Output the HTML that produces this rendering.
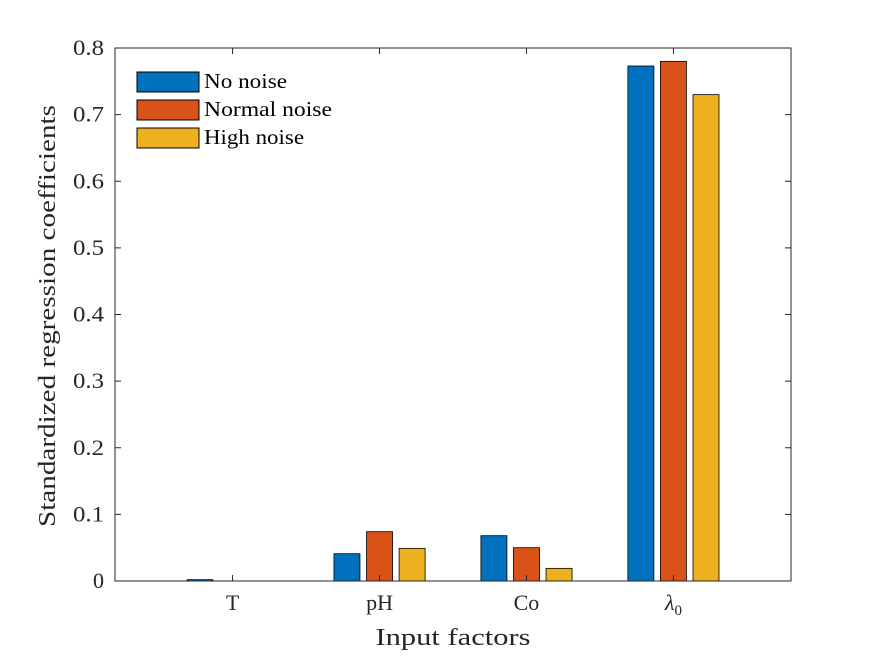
<!DOCTYPE html>
<html><head><meta charset="utf-8"><style>
body{margin:0;background:#fff;}
svg{display:block;font-family:"Liberation Serif",serif;}
</style></head><body>
<svg id="chart" width="875" height="656">
<rect x="0" y="0" width="875" height="656" fill="#fff"/>
</svg>
<script>
const categories = ["T","pH","Co","λ"];
const seriesNames = ["No noise","Normal noise","High noise"];
const noNoise = [0.002, 0.041, 0.068, 0.773];
const normalNoise = [0.0, 0.074, 0.050, 0.780];
const highNoise = [0.0, 0.049, 0.019, 0.730];
const yTicks = [0,0.1,0.2,0.3,0.4,0.5,0.6,0.7,0.8];
const yTickLabels = ["0","0.1","0.2","0.3","0.4","0.5","0.6","0.7","0.8"];
const colors = ["#0072BD","#D95319","#EDB120"];

const NS="http://www.w3.org/2000/svg";
const svg=document.getElementById('chart');
const L=115,R=791,T=48,B=581;
const xMin=0.2,xMax=4.8,yMin=0,yMax=0.8;
function xs(v){return L+(v-xMin)/(xMax-xMin)*(R-L);}
function ys(v){return B-(v-yMin)/(yMax-yMin)*(B-T);}
function el(tag,attrs,parent){const e=document.createElementNS(NS,tag);for(const k in attrs)e.setAttribute(k,attrs[k]);(parent||svg).appendChild(e);return e;}

const series=[noNoise,normalNoise,highNoise];
const unit=(R-L)/(xMax-xMin);
const offset=0.2216*unit, bw=0.177*unit;
series.forEach((s,si)=>{
  s.forEach((v,ci)=>{
    const cx=xs(ci+1)+(si-1)*offset;
    const y0=ys(0), y1=ys(v);
    const r=el('rect',{x:cx-bw/2,y:y1,width:bw,height:Math.max(0,y0-y1),fill:colors[si],stroke:'#000','stroke-width':0.8});
    
    
  });
});

const box=el('rect',{x:L,y:T,width:R-L,height:B-T,fill:'none',stroke:'#262626','stroke-width':1});



yTicks.forEach((v,i)=>{
  const y=ys(v);
  const t1=el('line',{x1:L,x2:L+6,y1:y,y2:y,stroke:'#262626'});
  
  
  const t2=el('line',{x1:R,x2:R-6,y1:y,y2:y,stroke:'#262626'});
  
  
  const lab=yTickLabels[i];
  const attrs={x:L-11,y:y+7,'text-anchor':'end','font-size':22,fill:'#262626'};
  if(lab.length>1){attrs.textLength=31;attrs.lengthAdjust='spacingAndGlyphs';}
  const tx=el('text',attrs);
  tx.textContent=lab;
  
  
});
categories.forEach((c,i)=>{
  const x=xs(i+1);
  const t1=el('line',{x1:x,x2:x,y1:B,y2:B-6,stroke:'#262626'});
  
  
  const t2=el('line',{x1:x,x2:x,y1:T,y2:T+6,stroke:'#262626'});
  
  
  const tx=el('text',{x:x,y:B+29,'text-anchor':'middle','font-size':22,fill:'#262626'});
  if(c==='λ'){tx.innerHTML='<tspan font-style="italic">λ</tspan><tspan font-size="15" dy="5">0</tspan>';}
  else tx.textContent=c;
  
  
});

const xt=el('text',{x:(L+R)/2,y:645,'text-anchor':'middle','font-size':24,fill:'#262626',textLength:155,lengthAdjust:'spacingAndGlyphs'});
xt.textContent='Input factors';


const yt=el('text',{x:0,y:0,'text-anchor':'middle','font-size':24,fill:'#262626',textLength:422,lengthAdjust:'spacingAndGlyphs',transform:'translate(55,316) rotate(-90)'});
yt.textContent='Standardized regression coefficients';



const lg=el('g',{});


const legLens=[83,128,100];
seriesNames.forEach((n,i)=>{
  const y=72+i*28;
  const sw=el('rect',{x:137,y:y,width:62,height:20,fill:colors[i],stroke:'#000','stroke-width':1},lg);
  
  
  const t=el('text',{x:204,y:y+16,'font-size':21,fill:'#000',textLength:legLens[i],lengthAdjust:'spacingAndGlyphs'},lg);
  t.textContent=n;
  
  
});
</script>
</body></html>
